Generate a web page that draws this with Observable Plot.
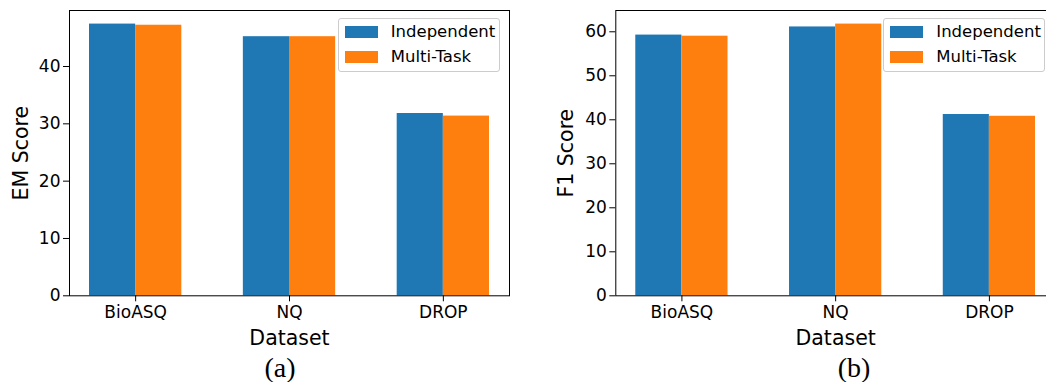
<!DOCTYPE html>
<html>
<head>
<meta charset="utf-8">
<script src="https://cdn.jsdelivr.net/npm/d3@7"></script>
<script src="https://cdn.jsdelivr.net/npm/@observablehq/plot@0.6"></script>
<style>
  html, body { margin: 0; padding: 0; background: #fff; overflow: hidden; }
  #root { position: relative; width: 1046px; height: 382px; overflow: hidden; background: #fff; }
  .panel { position: absolute; top: 0; }
  .legend { position: absolute; box-sizing: border-box; border: 1px solid #cccccc; border-radius: 3px;
            background: rgba(255,255,255,0.8); font-family: "DejaVu Sans", sans-serif; font-size: 16.5px; color: #000; }
  .legend .sw { position: absolute; width: 33px; height: 12px; }
  .legend .lb { position: absolute; line-height: 20px; white-space: nowrap; }
  .cap { position: absolute; width: 100px; text-align: center; font-family: "Liberation Serif", serif; font-size: 28px; line-height: 28px; color: #000; }
</style>
</head>
<body>
<div id="root"></div>
<script>
// ---- data ----
const datasets = ["BioASQ", "NQ", "DROP"];
const series = ["Independent", "Multi-Task"];
const emIndependent = [47.4, 45.2, 31.8];
const emMultiTask = [47.2, 45.2, 31.35];
const f1Independent = [59.25, 61.1, 41.2];
const f1MultiTask = [59.0, 61.75, 40.8];
const emTicks = [0, 10, 20, 30, 40];
const f1Ticks = [0, 10, 20, 30, 40, 50, 60];
const colors = ["#1f77b4", "#ff7f0e"];
const barWidth = 0.3;

function rowsFor(a, b) {
  const rows = [];
  datasets.forEach((d, i) => {
    rows.push({dataset: d, i, series: series[0], k: 0, value: a[i]});
    rows.push({dataset: d, i, series: series[1], k: 1, value: b[i]});
  });
  return rows;
}

function makeChart({a, b, ticks, ylabel, width, marginLeft, marginRight, labelDx}) {
  const rows = rowsFor(a, b);
  const lo = -barWidth, hi = datasets.length - 1 + barWidth;
  const pad = 0.05 * (hi - lo);
  const ymax = d3.max(rows, d => d.value) * 1.05;
  return Plot.plot({
    width, height: 382,
    marginLeft, marginRight, marginTop: 10, marginBottom: 86.7,
    style: {fontFamily: "DejaVu Sans, sans-serif", fontSize: "17px", color: "#000", background: "transparent", overflow: "visible"},
    x: {type: "linear", domain: [lo - pad, hi + pad], ticks: datasets.map((d, i) => i), tickFormat: i => datasets[i],
        tickSize: 6, tickPadding: 4.5, label: null},
    y: {domain: [0, ymax], ticks, tickSize: 6, tickPadding: 3, label: null},
    color: {domain: series, range: colors},
    marks: [
      Plot.rectY(rows, {x1: d => d.i - barWidth + d.k * barWidth, x2: d => d.i + d.k * barWidth, y1: 0, y2: "value", fill: "series"}),
      Plot.frame({stroke: "#000", strokeWidth: 1}),
      Plot.text(["Dataset"], {frameAnchor: "bottom", dy: 34.7, lineAnchor: "top", textAnchor: "middle", fontSize: 20.5, text: d => d}),
      Plot.text([ylabel], {frameAnchor: "left", dx: labelDx, rotate: -90, lineAnchor: "top", textAnchor: "middle", fontSize: 20.5, text: d => d})
    ]
  });
}

function addLegend(root, left, top) {
  const box = document.createElement("div");
  box.className = "legend";
  Object.assign(box.style, {left: left + "px", top: top + "px", width: "162px", height: "54px"});
  series.forEach((s, j) => {
    const sw = document.createElement("div");
    sw.className = "sw";
    Object.assign(sw.style, {left: "6px", top: (7 + 25 * j) + "px", background: colors[j]});
    const lb = document.createElement("div");
    lb.className = "lb";
    lb.textContent = s;
    Object.assign(lb.style, {left: "52px", top: (3 + 25 * j) + "px"});
    box.append(sw, lb);
  });
  root.append(box);
}

function addCaption(root, text, cx, top) {
  const c = document.createElement("div");
  c.className = "cap";
  c.textContent = text;
  Object.assign(c.style, {left: (cx - 50) + "px", top: top + "px"});
  root.append(c);
}

const root = document.getElementById("root");

const left = makeChart({a: emIndependent, b: emMultiTask, ticks: emTicks, ylabel: "EM Score", width: 523, marginLeft: 69, marginRight: 14, labelDx: -56});
left.classList.add("panel");
left.style.left = "0px";
root.append(left);

const right = makeChart({a: f1Independent, b: f1MultiTask, ticks: f1Ticks, ylabel: "F1 Score", width: 535, marginLeft: 92.3, marginRight: 3, labelDx: -57.3});
right.classList.add("panel");
right.style.left = "523px";
root.append(right);

addLegend(root, 337.7, 18.3);
addLegend(root, 883.3, 18.3);
addCaption(root, "(a)", 280, 354);
addCaption(root, "(b)", 854, 354);
</script>
</body>
</html>
